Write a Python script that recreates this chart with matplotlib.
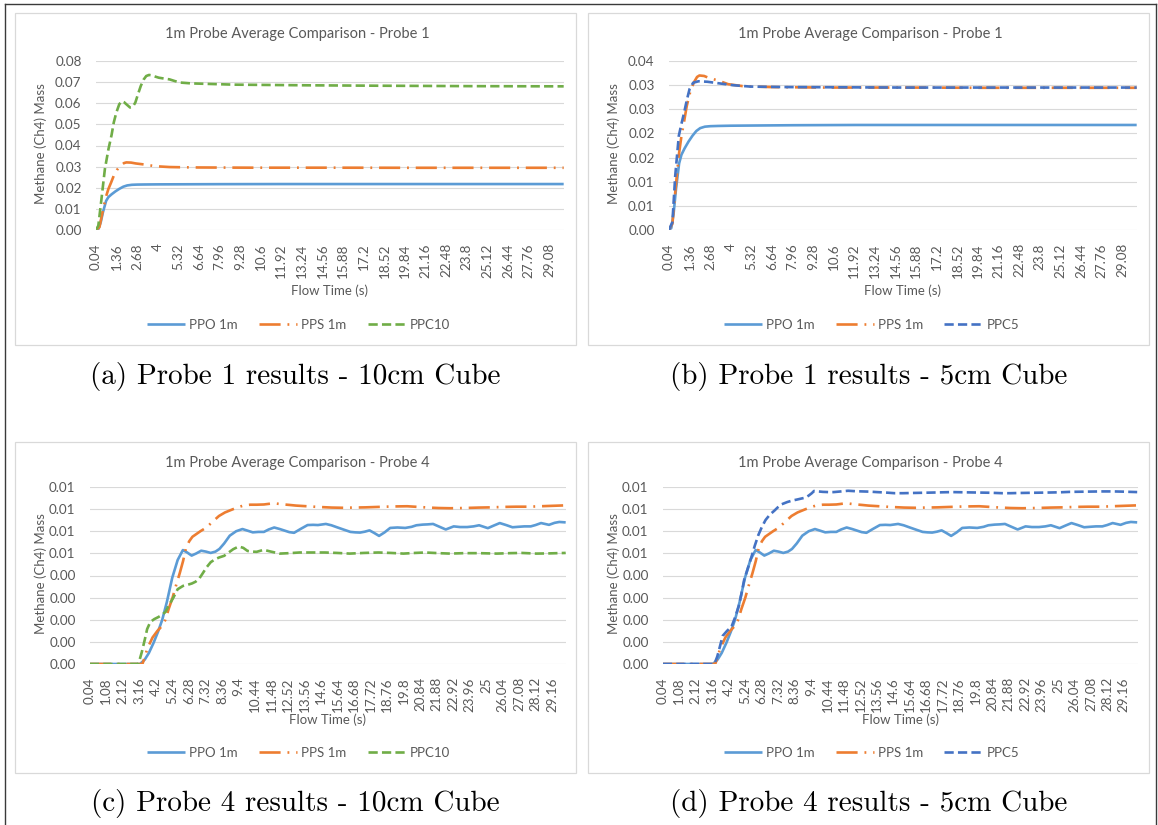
import matplotlib
matplotlib.use("Agg")
import matplotlib.pyplot as plt
from matplotlib.patches import Rectangle
from matplotlib.lines import Line2D

# Methane mass at the probe, in units of 1e-3, as (flow time s, mass) pairs
SCALE = 1e-3

ppo_p1 = [(0.04, 0), (0.2, 0.4), (0.35, 3.5), (0.5, 8.5), (0.7, 13.8), (0.85, 15.6), (1.05, 16.9),
          (1.3, 18.3), (1.55, 19.5), (1.8, 20.5), (2.05, 21.1), (2.35, 21.4), (2.7, 21.5), (3.2, 21.55),
          (4.0, 21.6), (6.0, 21.65), (8.0, 21.7), (12.0, 21.75), (18.0, 21.75), (24.0, 21.75), (30.0, 21.75)]
pps_p1 = [(0.04, 0), (0.27, 1.3), (0.5, 9.5), (0.68, 15.5), (0.85, 19.5), (1.02, 22.5), (1.19, 25.7),
          (1.4, 28.5), (1.65, 30.6), (1.85, 31.7), (2.0, 32.0), (2.3, 31.9), (2.6, 31.5), (3.15, 31.0),
          (3.5, 30.6), (3.84, 30.2), (4.3, 30.0), (4.76, 29.8), (5.5, 29.7), (6.6, 29.6), (10.0, 29.5),
          (15.0, 29.5), (20.0, 29.45), (25.0, 29.45), (30.0, 29.45)]
ppc10_p1 = [(0.04, 0), (0.2, 2.0), (0.39, 13.9), (0.62, 28.8), (0.85, 38.3), (1.05, 45.0), (1.19, 50.9),
            (1.35, 55.5), (1.54, 59.5), (1.7, 61.0), (1.85, 60.5), (2.0, 59.5), (2.23, 58.0), (2.4, 58.3),
            (2.57, 60.3), (2.75, 64.5), (2.92, 68.2), (3.1, 71.2), (3.27, 72.9), (3.45, 73.4), (3.61, 73.2),
            (3.85, 72.6), (4.07, 72.1), (4.4, 71.7), (4.76, 71.3), (5.1, 70.5), (5.45, 69.8), (6.14, 69.4),
            (7.5, 69.1), (8.9, 68.8), (13.5, 68.5), (18.1, 68.3), (24.0, 68.1), (30.0, 68.0)]
ppc5_p1 = [(0.04, 0), (0.27, 1.6), (0.45, 11.2), (0.68, 19.5), (0.85, 22.0), (1.02, 24.3), (1.2, 27.0),
           (1.37, 29.2), (1.6, 30.5), (1.94, 30.8), (2.51, 30.7), (3.2, 30.4), (4.12, 30.0), (5.26, 29.7),
           (7.55, 29.6), (15.0, 29.5), (22.0, 29.5), (30.0, 29.5)]

ppo_p4 = [(0.04, 0), (3.2, 0), (3.5, 0.2), (3.76, 0.5), (4.05, 0.95), (4.33, 1.45), (4.6, 2.0), (4.89, 2.8),
          (5.23, 3.9), (5.57, 4.7), (5.9, 5.15), (6.15, 5.05), (6.45, 4.9), (6.75, 5.0), (7.05, 5.12),
          (7.35, 5.08), (7.65, 5.02), (7.95, 5.08), (8.2, 5.2), (8.5, 5.45), (8.85, 5.8), (9.25, 6.0),
          (9.65, 6.1), (10.0, 6.02), (10.3, 5.95), (10.65, 5.97), (11.0, 5.97), (11.3, 6.08), (11.65, 6.17),
          (12.0, 6.1), (12.3, 6.03), (12.6, 5.96), (12.9, 5.93), (13.3, 6.1), (13.75, 6.28), (14.1, 6.29),
          (14.4, 6.28), (14.9, 6.33), (15.25, 6.27), (15.6, 6.18), (16.0, 6.08), (16.45, 5.97), (16.75, 5.95),
          (17.05, 5.94), (17.35, 5.98), (17.65, 6.04), (17.95, 5.92), (18.25, 5.79), (18.6, 5.95),
          (18.95, 6.15), (19.4, 6.17), (19.9, 6.15), (20.3, 6.2), (20.6, 6.27), (21.0, 6.3), (21.3, 6.31),
          (21.65, 6.33), (22.0, 6.22), (22.45, 6.08), (22.95, 6.22), (23.35, 6.19), (23.8, 6.19),
          (24.2, 6.22), (24.55, 6.27), (25.1, 6.14), (25.45, 6.25), (25.85, 6.37), (26.25, 6.28),
          (26.65, 6.18), (27.0, 6.2), (27.4, 6.22), (27.8, 6.22), (28.1, 6.28), (28.45, 6.37),
          (28.95, 6.29), (29.3, 6.38), (29.6, 6.42), (30.0, 6.4)]
pps_p4 = [(0.04, 0), (3.35, 0), (3.5, 0.3), (3.65, 0.68), (3.99, 1.2), (4.3, 1.5), (4.56, 1.7), (4.8, 2.0),
          (5.0, 2.48), (5.25, 3.0), (5.46, 3.53), (5.7, 4.1), (5.91, 4.65), (6.1, 5.25), (6.3, 5.55),
          (6.5, 5.75), (6.7, 5.85), (7.0, 6.0), (7.38, 6.17), (7.8, 6.45), (8.17, 6.69), (8.55, 6.85),
          (8.96, 6.97), (9.35, 7.08), (9.75, 7.17), (10.15, 7.2), (10.54, 7.2), (11.0, 7.21), (11.44, 7.25),
          (11.8, 7.25), (12.12, 7.22), (12.6, 7.19), (13.02, 7.16), (13.7, 7.13), (14.37, 7.1), (15.28, 7.07),
          (16.0, 7.06), (16.63, 7.07), (17.4, 7.08), (18.21, 7.1), (19.1, 7.12), (20.02, 7.13), (20.7, 7.1),
          (21.37, 7.07), (22.0, 7.05), (22.73, 7.04), (23.6, 7.05), (24.53, 7.07), (25.3, 7.08), (26.1, 7.1),
          (26.9, 7.11), (27.7, 7.11), (28.8, 7.14), (30.0, 7.17)]
ppc10_p4 = [(0.04, 0), (3.1, 0), (3.31, 0.53), (3.5, 1.1), (3.65, 1.58), (3.85, 1.9), (4.1, 2.03),
            (4.35, 2.12), (4.56, 2.21), (4.8, 2.35), (5.0, 2.63), (5.3, 3.0), (5.57, 3.38), (5.91, 3.53),
            (6.2, 3.58), (6.47, 3.64), (6.7, 3.72), (6.93, 3.86), (7.15, 4.1), (7.38, 4.36), (7.65, 4.6),
            (7.94, 4.74), (8.2, 4.82), (8.5, 4.89), (8.8, 5.05), (9.07, 5.19), (9.41, 5.31), (9.7, 5.25),
            (9.97, 5.11), (10.25, 5.08), (10.54, 5.07), (10.99, 5.16), (11.44, 5.08), (12.0, 4.99),
            (12.6, 5.01), (13.25, 5.04), (14.0, 5.04), (14.83, 5.04), (15.6, 5.02), (16.4, 4.99),
            (17.3, 5.02), (18.21, 5.04), (19.0, 5.02), (19.79, 4.99), (20.5, 5.02), (21.15, 5.04),
            (22.0, 5.01), (22.73, 4.99), (23.6, 5.01), (24.53, 5.01), (25.66, 4.99), (26.5, 5.01),
            (27.24, 5.02), (28.14, 4.99), (29.0, 5.0), (30.0, 5.02)]
ppc5_p4 = [(0.04, 0), (3.3, 0), (3.48, 0.34), (3.65, 0.8), (3.82, 1.27), (4.1, 1.5), (4.38, 1.69), (4.6, 2.1),
           (4.84, 2.62), (5.0, 3.15), (5.18, 3.81), (5.4, 4.3), (5.63, 4.82), (5.85, 5.35), (6.08, 5.84),
           (6.3, 6.2), (6.53, 6.51), (6.8, 6.75), (7.1, 6.94), (7.3, 7.08), (7.55, 7.22), (7.9, 7.32),
           (8.23, 7.39), (8.5, 7.43), (8.8, 7.48), (9.05, 7.52), (9.25, 7.61), (9.45, 7.72), (9.59, 7.82),
           (9.85, 7.8), (10.15, 7.78), (10.5, 7.77), (10.83, 7.77), (11.3, 7.8), (11.74, 7.83), (12.2, 7.81),
           (12.64, 7.8), (13.1, 7.79), (13.55, 7.77), (14.1, 7.75), (14.68, 7.72), (15.2, 7.72), (15.81, 7.73),
           (16.5, 7.74), (17.17, 7.75), (17.7, 7.76), (18.3, 7.77), (19.1, 7.76), (19.88, 7.75), (20.7, 7.74),
           (21.46, 7.72), (22.0, 7.72), (22.6, 7.73), (23.5, 7.74), (24.4, 7.75), (25.1, 7.76), (25.76, 7.78),
           (26.8, 7.79), (27.8, 7.8), (28.5, 7.8), (29.1, 7.79), (30.0, 7.77)]

# Category labels shown on the time axis
xlabels_p1 = ['0.04', '1.36', '2.68', '4', '5.32', '6.64', '7.96', '9.28', '10.6', '11.92', '13.24', '14.56',
              '15.88', '17.2', '18.52', '19.84', '21.16', '22.48', '23.8', '25.12', '26.44', '27.76', '29.08']
xlabels_p4 = ['0.04', '1.08', '2.12', '3.16', '4.2', '5.24', '6.28', '7.32', '8.36', '9.4', '10.44', '11.48',
              '12.52', '13.56', '14.6', '15.64', '16.68', '17.72', '18.76', '19.8', '20.84', '21.88', '22.92',
              '23.96', '25', '26.04', '27.08', '28.12', '29.16']

yticks_a = [0, 0.01, 0.02, 0.03, 0.04, 0.05, 0.06, 0.07, 0.08]
ylabels_a = ['0.00', '0.01', '0.02', '0.03', '0.04', '0.05', '0.06', '0.07', '0.08']
yticks_b = [0, 0.005, 0.01, 0.015, 0.02, 0.025, 0.03, 0.035]
ylabels_b = ['0.00', '0.01', '0.01', '0.02', '0.02', '0.03', '0.03', '0.04']
yticks_cd = [0, 0.001, 0.002, 0.003, 0.004, 0.005, 0.006, 0.007, 0.008]
ylabels_cd = ['0.00', '0.00', '0.00', '0.00', '0.00', '0.01', '0.01', '0.01', '0.01']

captions = ['(a) Probe 1 results - 10cm Cube', '(b) Probe 1 results - 5cm Cube',
            '(c) Probe 4 results - 10cm Cube', '(d) Probe 4 results - 5cm Cube']

BLUE = '#5B9BD5'
ORANGE = '#ED7D31'
GREEN = '#70AD47'
DARKBLUE = '#4472C4'
GRID = '#D9D9D9'
TEXT = '#595959'

styles = {
    'PPO 1m': dict(color=BLUE, linestyle='-'),
    'PPS 1m': dict(color=ORANGE, dashes=(8, 2.6, 0.7, 2.6)),
    'PPC10': dict(color=GREEN, dashes=(3.5, 1.6)),
    'PPC5': dict(color=DARKBLUE, dashes=(3.5, 1.6)),
}

plt.rcParams['font.family'] = ['Lato', 'DejaVu Sans']

W, H = 1158, 825
fig = plt.figure(figsize=(W / 100, H / 100), dpi=100)


def fx(px):
    return px / W


def fy(py):
    return 1 - py / H


# outer frame (open at the bottom)
for xs, ys in [((5, 5), (4, 825)), ((5, 1156), (4, 4)), ((1156, 1156), (4, 825))]:
    fig.add_artist(Line2D([fx(x) for x in xs], [fy(y) for y in ys], transform=fig.transFigure,
                          color='#3a3a3a', lw=1.0))


def panel(box, plot, title, series, yticks, ylabels, xlabels, caption, cap_y):
    bx0, by0, bx1, by1 = box
    fig.add_artist(Rectangle((fx(bx0), fy(by1)), (bx1 - bx0) / W, (by1 - by0) / H,
                             transform=fig.transFigure, fill=False, edgecolor=GRID, lw=0.9))
    l, t, r, b = plot
    ax = fig.add_axes([fx(l), fy(b), (r - l) / W, (b - t) / H])
    handles = []
    for name, pts in series:
        xs = [p[0] for p in pts]
        ys = [p[1] * SCALE for p in pts]
        line, = ax.plot(xs, ys, lw=1.9, label=name, solid_capstyle='butt', dash_capstyle='butt',
                        **styles[name])
        handles.append(line)
    ax.set_xlim(0.02, 30.02)
    ax.set_ylim(yticks[0], yticks[-1])
    ax.set_yticks(yticks, ylabels)
    ax.set_xticks([float(s) for s in xlabels], xlabels, rotation=90)
    ax.tick_params(length=0, labelsize=9.7, labelcolor=TEXT)
    ax.tick_params(axis='x', pad=9.5)
    ax.tick_params(axis='y', pad=10)
    ax.grid(axis='y', color=GRID, lw=0.8)
    ax.set_axisbelow(True)
    for s in ax.spines.values():
        s.set_visible(False)

    cx = (bx0 + bx1) / 2
    fig.text(fx(cx + 2), fy(by0 + 21), title, ha='center', va='center', fontsize=10.5, color=TEXT)
    fig.text(fx(bx0 + 26), fy((t + b) / 2 - 2), 'Methane (Ch4) Mass', rotation=90, ha='center',
             va='center', fontsize=9.5, color=TEXT)
    fig.text(fx((l + r) / 2), fy(by0 + 278), 'Flow Time (s)', ha='center', va='center',
             fontsize=9.5, color=TEXT)
    fig.legend(handles=handles, loc='center', bbox_to_anchor=(fx(cx + 3), fy(by1 - 20)),
               bbox_transform=fig.transFigure, ncol=3, frameon=False, fontsize=9.5,
               labelcolor=TEXT, handlelength=2.9, columnspacing=1.6, handletextpad=0.3)
    fig.text(fx(cx), fy(cap_y), caption, ha='center', va='center', fontsize=21,
             family='cmr10', color='black')


panel((15, 13, 576, 345), (95.5, 61, 564, 230), '1m Probe Average Comparison - Probe 1',
      [('PPO 1m', ppo_p1), ('PPS 1m', pps_p1), ('PPC10', ppc10_p1)],
      yticks_a, ylabels_a, xlabels_p1, captions[0], 376)
panel((588, 13, 1149, 345), (668.5, 61, 1137, 230), '1m Probe Average Comparison - Probe 1',
      [('PPO 1m', ppo_p1), ('PPS 1m', pps_p1), ('PPC5', ppc5_p1)],
      yticks_b, ylabels_b, xlabels_p1, captions[1], 376)
panel((15, 442, 576, 773), (89.5, 487, 566, 664), '1m Probe Average Comparison - Probe 4',
      [('PPO 1m', ppo_p4), ('PPS 1m', pps_p4), ('PPC10', ppc10_p4)],
      yticks_cd, ylabels_cd, xlabels_p4, captions[2], 803)
panel((588, 442, 1149, 773), (662.5, 487, 1137.5, 664), '1m Probe Average Comparison - Probe 4',
      [('PPO 1m', ppo_p4), ('PPS 1m', pps_p4), ('PPC5', ppc5_p4)],
      yticks_cd, ylabels_cd, xlabels_p4, captions[3], 803)

fig.savefig('out.png', dpi=100, facecolor='white')
